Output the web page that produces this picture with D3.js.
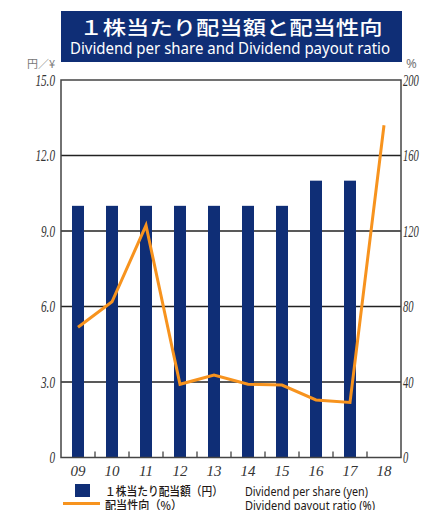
<!DOCTYPE html>
<html><head><meta charset="utf-8">
<script src="https://cdn.jsdelivr.net/npm/d3@7/dist/d3.min.js"></script>
<style>body{margin:0;background:#fff}svg{display:block}</style>
</head><body>
<svg id="c" width="421" height="510"></svg>
<script>
const years = ["09","10","11","12","13","14","15","16","17","18"];
const dividend = [10,10,10,10,10,10,10,11,11,null];
const payout = [69,82.5,123,38.8,43.7,38.8,38.4,30.5,29.2,176];
const leftTicks = [0,3,6,9,12,15];
const leftTickLabels = ["0","3.0","6.0","9.0","12.0","15.0"];
const rightTicks = [0,40,80,120,160,200];

const titleJa = "１株当たり配当額と配当性向";
const titleEn = "Dividend per share and Dividend payout ratio";
const legendJa = ["１株当たり配当額（円）","配当性向（%）"];
const legendEn = ["Dividend per share (yen)","Dividend payout ratio (%)"];

const navy = "#0f2e76", orange = "#f7931e";
const svg = d3.select("#c");
const L = 61, R = 401, T = 80, B = 457.5;

const x = d3.scaleBand().domain(years).range([L,R]);
const yL = d3.scaleLinear().domain([0,15]).range([B,T]);
const yR = d3.scaleLinear().domain([0,200]).range([B,T]);

function squeeze(sel, k){ sel.each(function(){ const w=this.getComputedTextLength(); d3.select(this).attr("textLength",w*k).attr("lengthAdjust","spacingAndGlyphs");}); }

// title box
svg.append("rect").attr("x",61).attr("y",11).attr("width",341).attr("height",51).attr("fill",navy);
svg.append("text").attr("x",231).attr("y",35).attr("text-anchor","middle")
  .attr("font-family","'Noto Sans CJK JP'").attr("font-size",19.5).attr("font-weight",500).attr("fill","#fff")
  .attr("textLength",303).attr("lengthAdjust","spacingAndGlyphs").text(titleJa);
svg.append("text").attr("x",230).attr("y",54).attr("text-anchor","middle")
  .attr("font-family","'Noto Sans'").attr("font-size",16).attr("fill","#fff")
  .attr("textLength",320).attr("lengthAdjust","spacingAndGlyphs").text(titleEn);

// unit labels
svg.append("text").attr("x",55).attr("y",68).attr("text-anchor","end")
  .attr("font-family","'Noto Sans CJK JP'").attr("font-size",11).attr("fill","#777").text("円／¥");
svg.append("text").attr("x",406).attr("y",68)
  .attr("font-family","'Noto Sans'").attr("font-size",13).attr("fill","#777").text("%");

// gridlines
svg.append("g").selectAll("line").data(leftTicks.filter(d=>d>0&&d<15)).join("line")
  .attr("x1",L).attr("x2",R).attr("y1",d=>yL(d)).attr("y2",d=>yL(d))
  .attr("stroke","#222").attr("stroke-width",1.3);

// bars
svg.append("g").selectAll("rect").data(years.map((y,i)=>({y,v:dividend[i]})).filter(d=>d.v!=null)).join("rect")
  .attr("x",d=>x(d.y)+x.bandwidth()/2-6).attr("width",12)
  .attr("y",d=>yL(d.v)).attr("height",d=>B-yL(d.v)).attr("fill",navy);

// bottom tick marks
svg.append("g").selectAll("line").data(years.slice(1)).join("line")
  .attr("x1",d=>x(d)).attr("x2",d=>x(d)).attr("y1",B).attr("y2",B-6)
  .attr("stroke","#333").attr("stroke-width",1.2);

// frame
svg.append("rect").attr("x",L).attr("y",T).attr("width",R-L).attr("height",B-T)
  .attr("fill","none").attr("stroke","#444").attr("stroke-width",1.5);

// line
const line = d3.line().x((d,i)=>x(years[i])+x.bandwidth()/2).y(d=>yR(d));
svg.append("path").datum(payout).attr("d",line).attr("fill","none")
  .attr("stroke",orange).attr("stroke-width",3).attr("stroke-linejoin","miter");

// axes
const axL = svg.append("g").attr("transform",`translate(${L},0)`)
  .call(d3.axisLeft(yL).tickValues(leftTicks).tickSize(0).tickPadding(6).tickFormat((d,i)=>leftTickLabels[i]));
const axR = svg.append("g").attr("transform",`translate(${R},0)`)
  .call(d3.axisRight(yR).tickValues(rightTicks).tickSize(0).tickPadding(2));
const axB = svg.append("g").attr("transform",`translate(0,${B})`)
  .call(d3.axisBottom(x).tickSize(0).tickPadding(8));
[axL,axR,axB].forEach(a=>{a.select(".domain").remove();
  a.selectAll("text").attr("font-family","'Liberation Serif'").attr("font-style","italic").attr("fill","#333");});
axL.selectAll("text").attr("font-size",16).call(squeeze,0.7);
axR.selectAll("text").attr("font-size",16).call(squeeze,0.66);
axB.selectAll("text").attr("font-size",15).call(squeeze,1.0);

// legend
svg.append("rect").attr("x",75).attr("y",484).attr("width",15).attr("height",13).attr("fill",navy);
svg.append("line").attr("x1",63).attr("x2",100).attr("y1",503.5).attr("y2",503.5).attr("stroke",orange).attr("stroke-width",3);
svg.append("text").attr("x",105).attr("y",496).attr("font-family","'Noto Sans CJK JP'").attr("font-size",12).attr("font-weight",500).attr("fill","#231815")
  .attr("textLength",118).attr("lengthAdjust","spacingAndGlyphs").text(legendJa[0]);
svg.append("text").attr("x",105).attr("y",510).attr("font-family","'Noto Sans CJK JP'").attr("font-size",12).attr("font-weight",500).attr("fill","#231815")
  .attr("textLength",77).attr("lengthAdjust","spacingAndGlyphs").text(legendJa[1]);
svg.append("text").attr("x",245).attr("y",495.5).attr("font-family","'Noto Sans'").attr("font-size",12.5).attr("fill","#231815")
  .attr("textLength",123).attr("lengthAdjust","spacingAndGlyphs").text(legendEn[0]);
svg.append("text").attr("x",245).attr("y",510).attr("font-family","'Noto Sans'").attr("font-size",12.5).attr("fill","#231815")
  .attr("textLength",130).attr("lengthAdjust","spacingAndGlyphs").text(legendEn[1]);
</script>
</body></html>
